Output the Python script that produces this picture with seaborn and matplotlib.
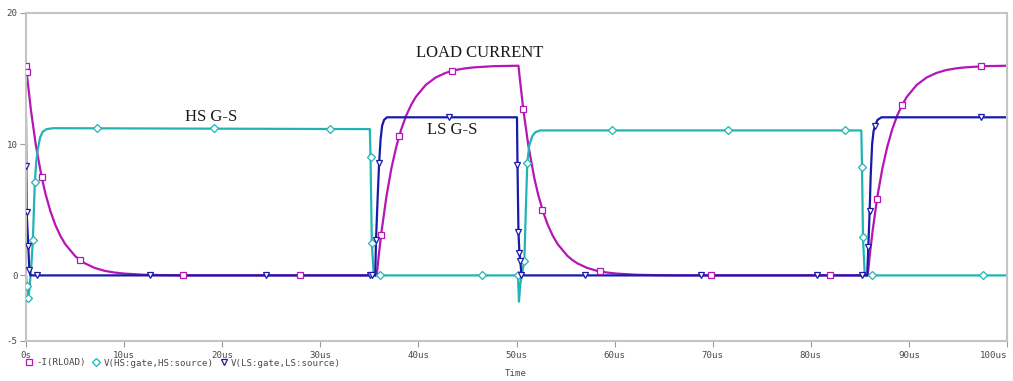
import matplotlib
matplotlib.use("Agg")
import matplotlib.pyplot as plt
from matplotlib.lines import Line2D
import seaborn as sns
import pandas as pd

# ---------------- data ----------------
load_t = [0.0, 0.1, 0.5, 1.0, 1.6, 2.0, 2.5, 3.0, 3.5, 4.0, 5.0, 5.5, 6.0, 7.0, 8.0, 9.0, 10.0, 12.0, 14.0, 16.0,
          35.75, 36.0, 36.25, 36.75, 37.25, 37.75, 38.25, 38.75, 39.25, 39.75, 40.75, 41.75, 42.75, 43.75, 44.75, 45.75, 47.75,
          50.2, 50.3, 50.7, 51.2, 51.8, 52.2, 52.7, 53.2, 53.7, 54.2, 55.2, 55.7, 56.2, 57.2, 58.2, 59.2, 60.2, 62.2, 64.2, 66.2,
          85.8, 86.05, 86.3, 86.8, 87.3, 87.8, 88.3, 88.8, 89.3, 89.8, 90.8, 91.8, 92.8, 93.8, 94.8, 95.8, 97.8, 100.0]
load_v = [15.95, 15.26, 12.61, 9.94, 7.47, 6.18, 4.87, 3.83, 3.02, 2.38, 1.48, 1.17, 0.92, 0.57, 0.35, 0.22, 0.14, 0.05, 0.02, 0.0,
          0.0, 1.79, 3.39, 6.06, 8.17, 9.82, 11.13, 12.17, 12.98, 13.62, 14.52, 15.08, 15.43, 15.65, 15.78, 15.86, 15.95,
          15.98, 15.26, 12.61, 9.94, 7.47, 6.18, 4.87, 3.83, 3.02, 2.38, 1.48, 1.17, 0.92, 0.57, 0.35, 0.22, 0.14, 0.05, 0.02, 0.0,
          0.0, 1.79, 3.39, 6.06, 8.17, 9.82, 11.13, 12.17, 12.98, 13.62, 14.52, 15.08, 15.43, 15.65, 15.78, 15.86, 15.95, 15.98]

hs_t = [0.0, 0.12, 0.25, 0.4, 0.55, 0.7, 0.9, 1.05, 1.2, 1.43, 1.7, 2.1, 2.8, 35.05, 35.12, 35.25, 35.45,
        50.15, 50.25, 50.4, 50.6, 50.8, 50.95, 51.1, 51.3, 51.6, 51.9, 52.4, 85.15, 85.22, 85.32, 85.5, 100.0]
hs_v = [0.0, -0.9, -1.75, -0.6, 0.8, 2.7, 7.1, 8.7, 9.6, 10.5, 10.95, 11.15, 11.22, 11.15, 9.0, 2.5, 0.0,
        0.0, -2.0, -0.6, 0.3, 1.1, 5.0, 8.6, 9.9, 10.6, 10.9, 11.05, 11.05, 8.3, 2.9, 0.0, 0.0]

ls_t = [0.0, 0.03, 0.07, 0.23, 0.34, 0.45, 35.6, 35.68, 35.85, 36.0, 36.15, 36.3, 36.5, 36.8,
        50.05, 50.1, 50.2, 50.3, 50.4, 50.5, 85.75, 85.86, 86.0, 86.1, 86.25, 86.4, 86.55, 86.8, 87.2, 100.0]
ls_v = [12.07, 8.36, 4.8, 2.26, 0.43, 0.0, 0.0, 2.7, 6.0, 8.6, 10.4, 11.4, 11.85, 12.05,
        12.05, 8.44, 3.28, 1.7, 1.07, 0.0, 0.0, 2.13, 4.93, 7.5, 10.0, 11.0, 11.4, 11.85, 12.05, 12.05]

# marker positions along each trace
load_mk_t = [0.0, 0.07, 1.6, 5.5, 16.0, 27.9, 36.2, 38.05, 43.45, 50.65, 52.55, 58.5, 69.8, 82.0, 86.75, 89.3, 97.4]
load_mk_v = [15.95, 15.5, 7.47, 1.17, 0.0, 0.0, 3.1, 10.65, 15.6, 12.7, 5.0, 0.3, 0.0, 0.0, 5.8, 13.0, 15.93]
hs_mk_t = [0.1, 0.25, 0.7, 0.9, 7.2, 19.2, 31.0, 35.12, 35.25, 36.1, 46.45, 50.15, 50.8, 51.1,
           59.7, 71.6, 83.5, 85.22, 85.32, 86.2, 97.6]
hs_mk_v = [-0.8, -1.75, 2.7, 7.1, 11.2, 11.2, 11.17, 9.0, 2.5, 0.0, 0.0, 0.0, 1.1, 8.6,
           11.05, 11.05, 11.05, 8.3, 2.9, 0.0, 0.0]
ls_mk_t = [0.03, 0.07, 0.23, 0.34, 1.1, 12.6, 24.5, 35.05, 35.25, 35.68, 36.0, 43.15,
           50.1, 50.2, 50.3, 50.4, 50.5, 57.0, 68.8, 80.6, 85.2, 85.86, 86.0, 86.55, 97.35]
ls_mk_v = [8.36, 4.8, 2.26, 0.43, 0.0, 0.0, 0.0, 0.0, 0.0, 2.7, 8.6, 12.05,
           8.44, 3.28, 1.7, 1.07, 0.0, 0.0, 0.0, 0.0, 0.0, 2.13, 4.93, 11.4, 12.05]

x_ticks = [0, 10, 20, 30, 40, 50, 60, 70, 80, 90, 100]
x_labels = ["0s", "10us", "20us", "30us", "40us", "50us", "60us", "70us", "80us", "90us", "100us"]
y_ticks = [-5, 0, 10, 20]
y_labels = ["-5", "0", "10", "20"]
legend_labels = ["-I(RLOAD)", "V(HS:gate,HS:source)", "V(LS:gate,LS:source)"]
annotations = [("LOAD CURRENT", 39.8, 16.97), ("HS G-S", 16.2, 12.1), ("LS G-S", 40.85, 11.1)]

# ---------------- styling ----------------
C_LOAD = "#B516B5"
C_HS = "#22B4B4"
C_LS = "#1A1AAA"
GRID = "#C4C4C4"
TXT = "#4A4A4A"
MONO = "DejaVu Sans Mono"

sns.set_theme(style="white")
plt.rcParams["font.family"] = ["DejaVu Sans"]

fig = plt.figure(figsize=(10.13, 3.81), dpi=100)
ax = fig.add_axes([26 / 1013, 40 / 381, 981 / 1013, 328 / 381])

series = [(load_t, load_v, load_mk_t, load_mk_v, C_LOAD, "s"),
          (hs_t, hs_v, hs_mk_t, hs_mk_v, C_HS, "D"),
          (ls_t, ls_v, ls_mk_t, ls_mk_v, C_LS, "v")]

for t, v, mt, mv, c, m in series:
    df = pd.DataFrame({"t": t, "v": v})
    sns.lineplot(data=df, x="t", y="v", sort=False, estimator=None, color=c, lw=1.6, ax=ax, zorder=2)

for t, v, mt, mv, c, m in series:
    size = 4.8 if m != "D" else 3.9
    ax.plot(mt, mv, linestyle="none", marker=m, markersize=size, markerfacecolor="white",
            markeredgecolor=c, markeredgewidth=0.9, zorder=4)

ax.set_xlim(0, 100)
ax.set_ylim(-5, 20)
ax.set_xticks(x_ticks)
ax.set_xticklabels(x_labels)
ax.set_yticks(y_ticks)
ax.set_yticklabels(y_labels)
ax.set_xlabel("")
ax.set_ylabel("")
for lab in ax.get_xticklabels() + ax.get_yticklabels():
    lab.set_family(MONO)
    lab.set_fontsize(6.6)
    lab.set_color(TXT)
ax.get_xticklabels()[-1].set_horizontalalignment("right")
ax.tick_params(axis="both", which="both", direction="out", length=4, width=0.8, color="#9A9A9A", pad=2)
ax.tick_params(axis="x", pad=3)
ax.tick_params(left=True, bottom=True)
for s in ax.spines.values():
    s.set_visible(True)
    s.set_color(GRID)
    s.set_linewidth(1.5)
ax.set_facecolor("white")

for txt, x, y in annotations:
    ax.text(x, y, txt, family="Liberation Serif", fontsize=12, color="#1A1A1A", va="center", ha="left", zorder=5)

fig.text(516 / 1013, 1 - 374 / 381, "Time", family=MONO, fontsize=6.6, color=TXT, ha="center", va="center")

handles = [Line2D([], [], linestyle="none", marker=m, markersize=(4.8 if m != "D" else 3.9),
                  markerfacecolor="white", markeredgecolor=c, markeredgewidth=0.9)
           for _, _, _, _, c, m in series]
leg = fig.legend(handles, legend_labels, loc="center left", bbox_to_anchor=(26 / 1013, 1 - 363 / 381),
                 ncol=3, frameon=False, handlelength=0.7, handletextpad=0.45, columnspacing=0.75,
                 borderpad=0, borderaxespad=0, prop={"family": MONO, "size": 6.6})
for tx in leg.get_texts():
    tx.set_color(TXT)

fig.savefig("out.png", dpi=100, facecolor="white")
